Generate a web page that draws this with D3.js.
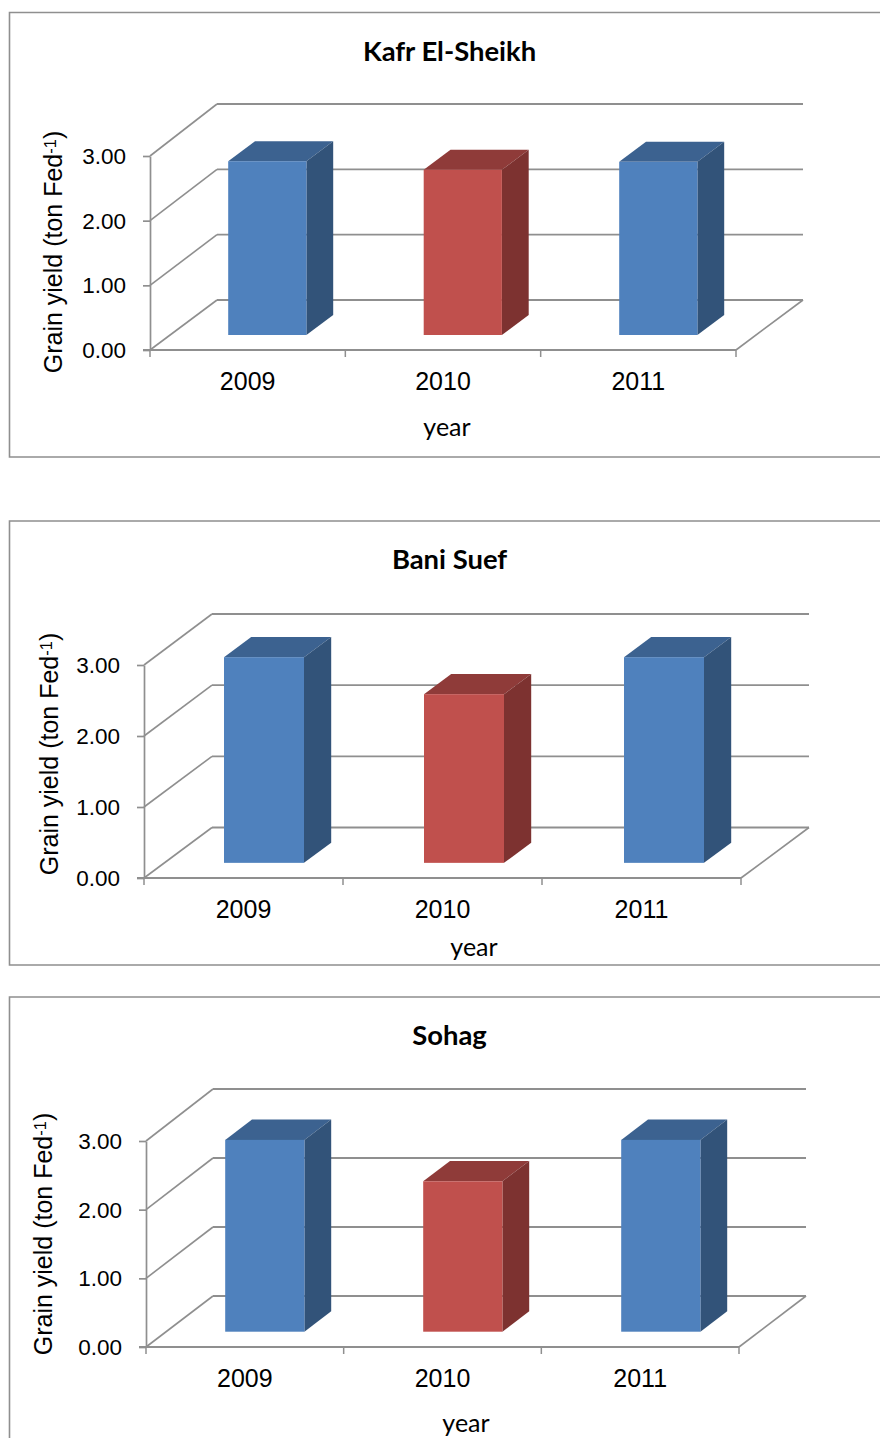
<!DOCTYPE html>
<html>
<head>
<meta charset="utf-8">
<script src="https://cdn.jsdelivr.net/npm/d3@7/dist/d3.min.js"></script>
<style>
  html, body { margin: 0; padding: 0; background: #fff; }
  svg { display: block; }
  .tick-label { font-family: "Liberation Sans", Arial, sans-serif; fill: #000; }
  .title { font-family: Lato, "Open Sans", sans-serif; font-weight: 700; font-size: 27.4px; fill: #000; }
  .x-title { font-family: Lato, "Open Sans", sans-serif; font-size: 25px; fill: #000; }
  .y-title { font-family: "Liberation Sans", Arial, sans-serif; font-size: 25px; fill: #000; }
</style>
</head>
<body>
<svg id="figure" width="880" height="1438"></svg>
<script>
// Grain yield by year at three governorates, drawn as pseudo-3D columns.
const years = ["2009", "2010", "2011"];
const yTicks = [0, 1, 2, 3];
const stations = ["Kafr El-Sheikh", "Bani Suef", "Sohag"];
const kafrElSheikhYield = [2.66, 2.53, 2.65];
const baniSuefYield = [2.89, 2.37, 2.89];
const sohagYield = [2.78, 2.18, 2.78];
const yieldSeries = [kafrElSheikhYield, baniSuefYield, sohagYield];

// Page geometry of each panel, kept apart from the values above.
const panels = [
  { top: 12.5, bottom: 457, left: 150, right: 736, barRight: 736.5, floor: 350, front3: 156, backFloor: 300, back3: 104, dx: 67,
    titleY: 60.5, tickY: 390, yearX: 447, yearY: 436, yLabelX: 62, yLabelY: 252 },
  { top: 521, bottom: 965, left: 144, right: 741, barRight: 744, floor: 878, front3: 665, backFloor: 827.5, back3: 614, dx: 68,
    titleY: 568.5, tickY: 918, yearX: 474, yearY: 956, yLabelX: 57.5, yLabelY: 754 },
  { top: 997, bottom: 1450, left: 146, right: 739, barRight: 740, floor: 1347, front3: 1141, backFloor: 1296, back3: 1089, dx: 67,
    titleY: 1044.5, tickY: 1387, yearX: 466, yearY: 1432, yLabelX: 52, yLabelY: 1234 }
];

const palette = {
  "2009": { front: "#4f81bd", side: "#325379", top: "#3c6290" },
  "2010": { front: "#c0504d", side: "#7d3230", top: "#8f3b39" },
  "2011": { front: "#4f81bd", side: "#325379", top: "#3c6290" }
};
const lineColor = "#8f8f8f";
const svg = d3.select("#figure");

panels.forEach((p, i) => {
  const g = svg.append("g");
  const values = yieldSeries[i];
  const x = d3.scaleBand().domain(years).range([p.left, p.right]);
  const xBar = d3.scaleBand().domain(years).range([p.left, p.barRight]);
  const yFront = d3.scaleLinear().domain([0, 3]).range([p.floor, p.front3]);
  const yBack = d3.scaleLinear().domain([0, 3]).range([p.backFloor, p.back3]);
  const depthY = p.floor - p.backFloor;

  // Columns stand 30% to 70% of the way into the floor.
  const barBase = p.floor - 0.3 * depthY;
  const yBar = d3.scaleLinear().domain([0, 3]).range([barBase, barBase - (p.backFloor - p.back3)]);
  const barW = xBar.bandwidth() * 0.4;
  const barDx = p.dx * 0.4;
  const barDy = depthY * 0.4;

  // Chart frame, open on the right where the page ends.
  g.append("path")
    .attr("d", `M880,${p.top}H9.5V${p.bottom}H880`)
    .attr("fill", "none").attr("stroke", lineColor).attr("stroke-width", 1.6);

  // Back wall gridlines and the matching diagonals on the side wall.
  g.selectAll(".grid").data(yTicks).join("line")
    .attr("x1", p.left + p.dx).attr("x2", p.right + p.dx)
    .attr("y1", d => yBack(d)).attr("y2", d => yBack(d))
    .attr("stroke", lineColor).attr("stroke-width", 1.8);
  g.selectAll(".wall").data(yTicks).join("line")
    .attr("x1", p.left).attr("y1", d => yFront(d))
    .attr("x2", p.left + p.dx).attr("y2", d => yBack(d))
    .attr("stroke", lineColor).attr("stroke-width", 1.6);
  g.append("line")
    .attr("x1", p.right).attr("y1", p.floor)
    .attr("x2", p.right + p.dx).attr("y2", p.backFloor)
    .attr("stroke", lineColor).attr("stroke-width", 1.6);

  // Columns: front face, lit top and shaded side.
  const bars = g.selectAll(".bar").data(years.map((year, k) => ({ year, value: values[k] }))).join("g");
  bars.append("path")
    .attr("fill", d => palette[d.year].top)
    .attr("d", d => {
      const l = xBar(d.year) + barW, t = yBar(d.value);
      return `M${l},${t}h${barW}l${barDx},${-barDy}h${-barW}Z`;
    });
  bars.append("path")
    .attr("fill", d => palette[d.year].side)
    .attr("d", d => {
      const r = xBar(d.year) + 2 * barW, t = yBar(d.value);
      return `M${r},${t}l${barDx},${-barDy}V${barBase - barDy}L${r},${barBase}Z`;
    });
  bars.append("rect")
    .attr("fill", d => palette[d.year].front)
    .attr("x", d => xBar(d.year) + barW)
    .attr("y", d => yBar(d.value))
    .attr("width", barW)
    .attr("height", d => barBase - yBar(d.value));

  // Value axis on the front edge of the side wall.
  const yAxis = g.append("g").attr("transform", `translate(${p.left},0)`)
    .call(d3.axisLeft(yFront).tickValues(yTicks).tickFormat(d3.format(".2f")).tickSizeInner(7).tickSizeOuter(0).tickPadding(17));
  yAxis.selectAll("path, line").attr("stroke", lineColor).attr("stroke-width", 1.7);
  yAxis.selectAll("text").attr("class", "tick-label").style("font-size", "22.5px").attr("dy", "0.33em");

  // Year axis along the front of the floor, ticks at band edges.
  const edgeScale = d3.scaleLinear().domain([0, years.length]).range([p.left, p.right]);
  g.append("line")
    .attr("x1", p.left - 7).attr("x2", p.right)
    .attr("y1", p.floor).attr("y2", p.floor)
    .attr("stroke", lineColor).attr("stroke-width", 1.8);
  g.selectAll(".edge").data(d3.range(years.length + 1)).join("line")
    .attr("x1", d => edgeScale(d)).attr("x2", d => edgeScale(d))
    .attr("y1", p.floor).attr("y2", p.floor + 7)
    .attr("stroke", lineColor).attr("stroke-width", 1.5);
  g.selectAll(".year").data(years).join("text")
    .attr("class", "tick-label")
    .style("font-size", "25px")
    .attr("text-anchor", "middle")
    .attr("x", d => x(d) + x.bandwidth() / 2)
    .attr("y", p.tickY)
    .text(d => d);

  // Titles.
  g.append("text").attr("class", "title")
    .attr("text-anchor", "middle").attr("x", 449.5).attr("y", p.titleY)
    .text(stations[i]);
  g.append("text").attr("class", "x-title")
    .attr("text-anchor", "middle").attr("x", p.yearX).attr("y", p.yearY)
    .text("year");
  const yLabel = g.append("text").attr("class", "y-title")
    .attr("text-anchor", "middle")
    .attr("transform", `translate(${p.yLabelX},${p.yLabelY}) rotate(-90)`);
  yLabel.append("tspan").text("Grain yield (ton Fed");
  yLabel.append("tspan").attr("dy", "-0.36em").style("font-size", "16.5px").text("-1");
  yLabel.append("tspan").attr("dy", "0.24em").text(")");
});
</script>
</body>
</html>
